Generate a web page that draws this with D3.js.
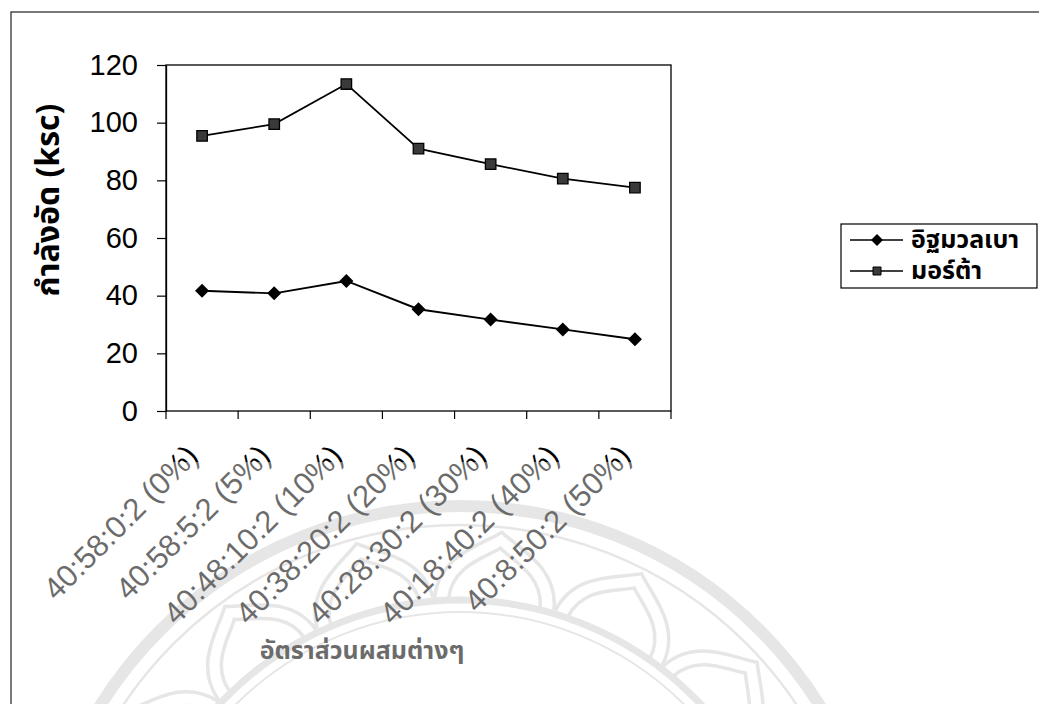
<!DOCTYPE html>
<html>
<head>
<meta charset="utf-8">
<script src="https://cdn.jsdelivr.net/npm/d3@7"></script>
<style>
  html, body { margin: 0; padding: 0; background: #fff; }
  svg { display: block; }
  text { font-family: "Liberation Sans", Arial, sans-serif; }
  .thai { font-family: Tahoma, "Noto Sans Thai", "Loma", "Garuda", "DejaVu Sans", "Liberation Sans", sans-serif; }
</style>
</head>
<body>
<script>
// Mix ratios (cement : sand : lightweight aggregate : water) and compressive strength (ksc)
const categories = [
  "40:58:0:2 (0%)",
  "40:58:5:2 (5%)",
  "40:48:10:2 (10%)",
  "40:38:20:2 (20%)",
  "40:28:30:2 (30%)",
  "40:18:40:2 (40%)",
  "40:8:50:2 (50%)"
];
const seriesNames = ["อิฐมวลเบา", "มอร์ต้า"];
const brickValues  = [41.7, 40.8, 45.1, 35.3, 31.7, 28.3, 24.9];
const mortarValues = [95.4, 99.5, 113.4, 91.0, 85.6, 80.6, 77.5];
const yTicks = [0, 20, 40, 60, 80, 100, 120];
const yTitle = "กำลังอัด (ksc)";
const xTitle = "อัตราส่วนผสมต่างๆ";

const W = 1039, H = 704;
const plot = { left: 166, top: 65, right: 671, bottom: 411 };

const svg = d3.select("body").append("svg")
  .attr("width", W).attr("height", H);

svg.append("rect").attr("width", W).attr("height", H).attr("fill", "#fff");

// faint seal printed on the lower half of the page (drawn first, sits behind)
const seal = svg.append("g");
const cx = 460, cy = 930;
const sealColor = "#d4d4d4";
seal.append("circle").attr("cx", cx).attr("cy", cy).attr("r", 424)
  .attr("fill", "none").attr("stroke", sealColor).attr("stroke-width", 12);
seal.append("circle").attr("cx", cx).attr("cy", cy).attr("r", 405)
  .attr("fill", "none").attr("stroke", sealColor).attr("stroke-width", 2.5);
seal.append("circle").attr("cx", cx).attr("cy", cy).attr("r", 330)
  .attr("fill", "none").attr("stroke", sealColor).attr("stroke-width", 7);
seal.append("circle").attr("cx", cx).attr("cy", cy).attr("r", 318)
  .attr("fill", "none").attr("stroke", sealColor).attr("stroke-width", 2);
// lotus petals around the inner ring
d3.range(-168, -10, 21).forEach(a => {
  const t = a * Math.PI / 180;
  const g = seal.append("g")
    .attr("transform", `translate(${cx + 328 * Math.cos(t)},${cy + 328 * Math.sin(t)}) rotate(${a + 90})`);
  [[60, 72], [46, 56]].forEach(([hw, h]) => {
    g.append("path")
      .attr("d", `M${-hw},0 C${-hw},${-h * 0.6} ${-hw * 0.3},${-h * 0.8} 0,${-h} C${hw * 0.3},${-h * 0.8} ${hw},${-h * 0.6} ${hw},0`)
      .attr("fill", "none").attr("stroke", sealColor).attr("stroke-width", 3.5);
  });
});

// chart frame (runs off the right and bottom edges)
svg.append("rect")
  .attr("x", 11).attr("y", 12).attr("width", 1100).attr("height", 800)
  .attr("fill", "none").attr("stroke", "#222").attr("stroke-width", 1.2);

const x = d3.scaleBand().domain(categories).range([plot.left, plot.right]);
const y = d3.scaleLinear().domain([0, 120]).range([plot.bottom, plot.top]);

// plot area border
svg.append("rect")
  .attr("x", plot.left).attr("y", plot.top)
  .attr("width", plot.right - plot.left).attr("height", plot.bottom - plot.top)
  .attr("fill", "none").attr("stroke", "#000").attr("stroke-width", 1.3);

// y axis
const yAxis = svg.append("g")
  .attr("transform", `translate(${plot.left},0)`)
  .call(d3.axisLeft(y).tickValues(yTicks).tickSize(9).tickPadding(19).tickSizeOuter(0));
yAxis.select(".domain").attr("stroke", "#000").attr("stroke-width", 1.3);
yAxis.selectAll(".tick line").attr("stroke", "#000").attr("stroke-width", 1.2);
yAxis.selectAll(".tick text")
  .attr("font-size", 29).attr("fill", "#000")
  .attr("font-family", "'Liberation Sans', Arial, sans-serif");

// x axis: ticks sit on category boundaries
const xg = svg.append("g");
const bounds = categories.map(c => x(c)).concat([x(categories[categories.length - 1]) + x.bandwidth()]);
xg.selectAll("line.tk").data(bounds).join("line")
  .attr("class", "tk")
  .attr("x1", d => d).attr("x2", d => d)
  .attr("y1", plot.bottom).attr("y2", plot.bottom + 8)
  .attr("stroke", "#000").attr("stroke-width", 1.2);

xg.selectAll("text.cat").data(categories).join("text")
  .attr("class", "cat")
  .attr("transform", d => `translate(${x(d) + x.bandwidth() / 2 - 2},${plot.bottom + 47}) rotate(-45)`)
  .attr("text-anchor", "end")
  .attr("font-size", 31).attr("fill", "#000")
  .text(d => d);

// series lines and markers
const line = d3.line()
  .x((d, i) => x(categories[i]) + x.bandwidth() / 2)
  .y(d => y(d));

svg.append("path").datum(mortarValues)
  .attr("d", line).attr("fill", "none")
  .attr("stroke", "#000").attr("stroke-width", 1.7);
svg.append("path").datum(brickValues)
  .attr("d", line).attr("fill", "none")
  .attr("stroke", "#000").attr("stroke-width", 1.9);

const diamond = d3.symbol().type(d3.symbolSquare).size(98);
const square = d3.symbol().type(d3.symbolSquare).size(110);

svg.append("g").selectAll("path").data(brickValues).join("path")
  .attr("d", diamond)
  .attr("transform", (d, i) => `translate(${x(categories[i]) + x.bandwidth() / 2},${y(d)}) rotate(45)`)
  .attr("fill", "#000");

svg.append("g").selectAll("path").data(mortarValues).join("path")
  .attr("d", square)
  .attr("transform", (d, i) => `translate(${x(categories[i]) + x.bandwidth() / 2},${y(d)})`)
  .attr("fill", "#3a3a3a").attr("stroke", "#000").attr("stroke-width", 1.3);

// axis titles
svg.append("text")
  .attr("class", "thai")
  .attr("transform", "translate(59,200) rotate(-90)")
  .attr("text-anchor", "middle")
  .attr("font-size", 32).attr("font-weight", "bold").attr("fill", "#000")
  .text(yTitle);

svg.append("text")
  .attr("class", "thai")
  .attr("x", 362).attr("y", 659)
  .attr("text-anchor", "middle")
  .attr("font-size", 25).attr("font-weight", "bold").attr("fill", "#000")
  .text(xTitle);

// legend
const lg = svg.append("g");
lg.append("rect")
  .attr("x", 841).attr("y", 224).attr("width", 196).attr("height", 64)
  .attr("fill", "#fff").attr("stroke", "#000").attr("stroke-width", 1.2);
const legendRows = [
  { name: seriesNames[0], sym: d3.symbol().type(d3.symbolSquare).size(72), rot: 45, fill: "#000", y: 240 },
  { name: seriesNames[1], sym: d3.symbol().type(d3.symbolSquare).size(64), rot: 0, fill: "#3a3a3a", y: 271 }
];
legendRows.forEach(r => {
  lg.append("line").attr("x1", 850).attr("x2", 903).attr("y1", r.y).attr("y2", r.y)
    .attr("stroke", "#000").attr("stroke-width", 1.6);
  lg.append("path").attr("d", r.sym)
    .attr("transform", `translate(877,${r.y}) rotate(${r.rot})`)
    .attr("fill", r.fill).attr("stroke", "#000").attr("stroke-width", r.rot ? 0 : 1);
  lg.append("text").attr("class", "thai")
    .attr("x", 911).attr("y", r.y + 8)
    .attr("font-size", 25).attr("font-weight", "bold").attr("fill", "#000")
    .text(r.name);
});

// the seal's wash lightens everything below it
svg.append("rect")
  .attr("x", 16).attr("y", 462).attr("width", W).attr("height", H)
  .attr("fill", "#fff").attr("opacity", 0.42);
</script>
</body>
</html>
